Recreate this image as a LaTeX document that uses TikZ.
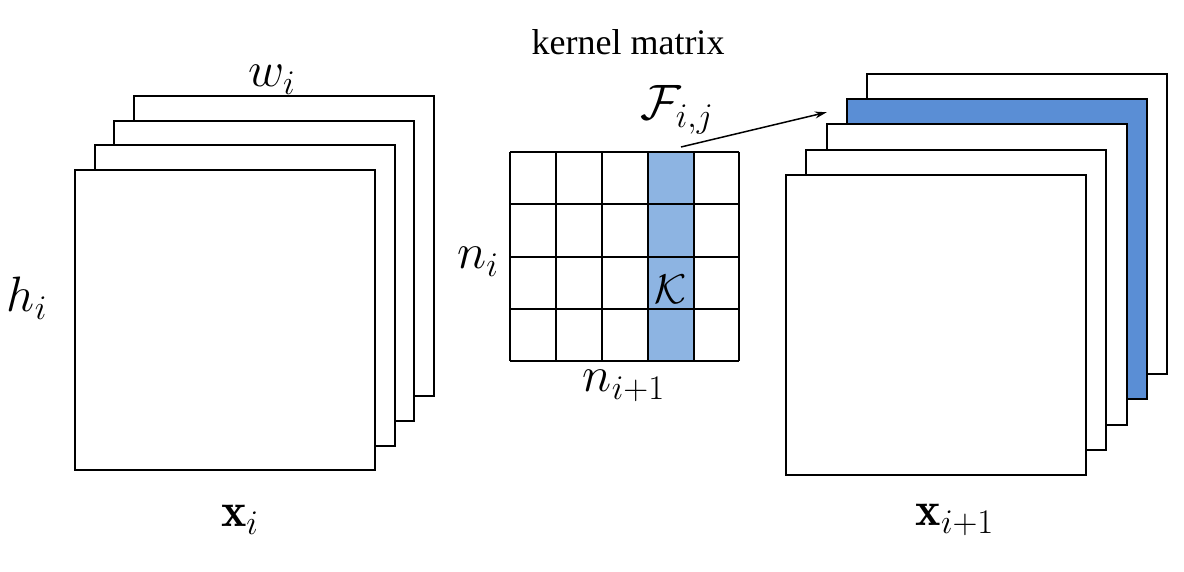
\documentclass[tikz,border=0pt]{standalone}
\usepackage{fontspec}
\newfontfamily\timesfont{Liberation Serif}
\usetikzlibrary{arrows.meta}
\definecolor{lightblue}{HTML}{8DB4E2}
\definecolor{darkblue}{HTML}{5A8ED5}
\begin{document}
\begin{tikzpicture}[x=0.5pt,y=-0.5pt,
  sheet/.style={draw=black, line width=1pt, fill=white, minimum width=150pt, minimum height=150pt, inner sep=0pt, outer sep=0pt, anchor=south west},
  bluesheet/.style={sheet, fill=darkblue},
  lab/.style={inner sep=0pt, font=\fontsize{24}{28}\selectfont},
  gridline/.style={line width=1pt}]
\useasboundingbox (0,0) rectangle (1184,572);
% left stack
\node[sheet] (L4) at (133.5,396.5) {};
\node[sheet] (L3) at (114,421) {};
\node[sheet] (L2) at (94.5,445.5) {};
\node[sheet] (L1) at (75,470) {};
% right stack
\node[sheet] (R5) at (867,374) {};
\node[bluesheet] (R4) at (846.75,399.25) {};
\node[sheet] (R3) at (826.5,424.5) {};
\node[sheet] (R2) at (806.25,449.75) {};
\node[sheet] (R1) at (786,475) {};
% kernel matrix
\fill[lightblue] (648,152) rectangle (694,361);
\foreach \x in {510,556,602,648,694,739} \draw[gridline] (\x,152) -- (\x,361);
\foreach \y in {152,204,257,309,361} \draw[gridline] (510,\y) -- (739,\y);
\node[lab, font=\fontsize{20}{24}\selectfont] (Klab) at (671,289) {$\mathcal{K}$};
\node[inner sep=0pt, font=\timesfont\fontsize{18}{20}\selectfont] (title) at (628,42) {kernel matrix};
\node[lab] (F) at (677,110) {$\mathcal{F}_{i,j}$};
\coordinate (Fstart) at (681,147);
\draw[line width=0.75pt, -{Stealth[length=6pt,width=3.5pt]}] (Fstart) -- ([xshift=-10pt,yshift=-6.5pt]R4.north west);
\node[lab] (ni) at (478,262) {$n_i$};
\node[lab] (ni1) at (624,386) {$n_{i+1}$};
\node[lab] (wi) at (272,80) {$w_i$};
\node[lab] (hi) at (27,298) {$h_i$};
\node[lab] (xi) at (240,520) {$\mathbf{x}_i$};
\node[lab] (xi1) at (955,520) {$\mathbf{x}_{i+1}$};
\end{tikzpicture}
\end{document}
